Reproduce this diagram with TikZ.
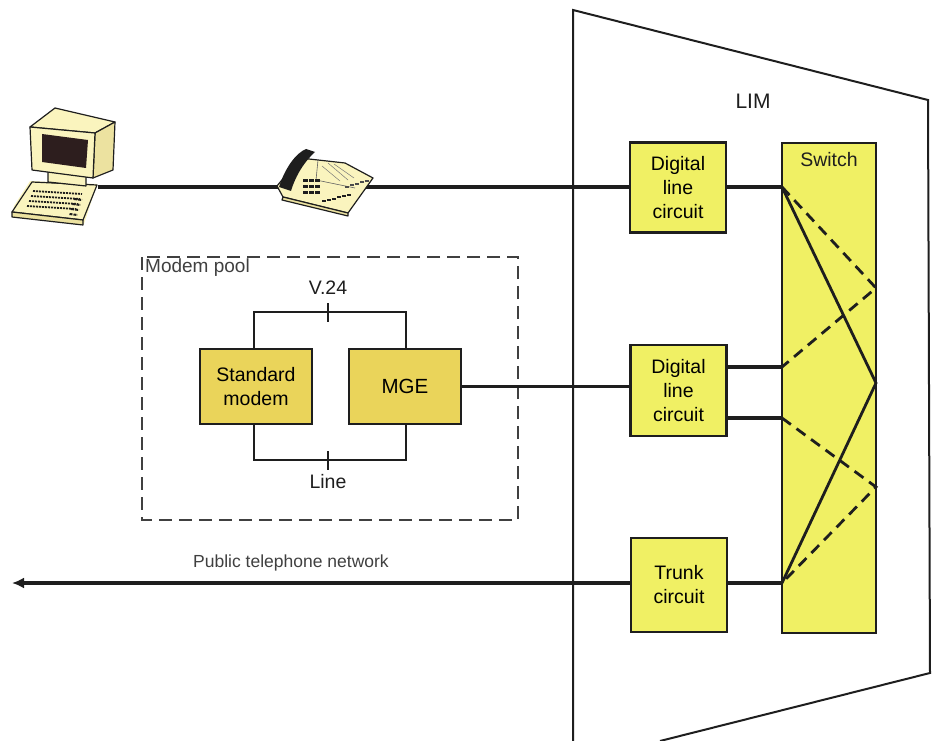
\documentclass[tikz,border=0pt]{standalone}
\usepackage{fontspec}
\setmainfont{Liberation Sans}
\usetikzlibrary{arrows.meta}
\definecolor{lemon}{RGB}{240,240,100}
\definecolor{gold}{RGB}{234,212,90}
\definecolor{cream}{RGB}{250,244,190}
\definecolor{creamdark}{RGB}{236,226,160}
\definecolor{ink}{RGB}{30,30,30}
\definecolor{screen}{RGB}{45,30,30}
\begin{document}
\begin{tikzpicture}[x=1pt,y=-1pt,
  circuit/.style={draw=ink,line width=2.4pt,fill=lemon,minimum width=96pt,
    minimum height=90pt,align=center,inner sep=0pt,
    font=\fontsize{19.5}{24}\selectfont},
  modembox/.style={circuit,fill=gold,minimum width=112pt,minimum height=75pt},
  wire/.style={draw=ink,line width=3.2pt},
  swline/.style={draw=ink,line width=2.8pt},
  swdash/.style={draw=ink,line width=2.8pt,dash pattern=on 11pt off 7pt},
  frame/.style={draw=ink,line width=2pt},
  lbl/.style={font=\fontsize{19.5}{24}\selectfont,text=ink,inner sep=0pt},
  small/.style={font=\fontsize{17.5}{20}\selectfont,text=ink!85,inner sep=0pt},
  tick/.style={draw=ink,line width=2pt},
  art/.style={draw=ink,line width=1.2pt,line join=round}
]
\useasboundingbox (0,0) rectangle (938,741);

% LIM cabinet outline
\draw[frame,line join=miter] (573,741) -- (573,10) -- (928,100) -- (930,673) -- (660,741);
\node[lbl,font=\fontsize{21}{24}\selectfont] (lim) at (753,101) {LIM};

% Modem pool frame
\draw[draw=ink!85,line width=1.6pt,dash pattern=on 13pt off 7pt] (142,257) rectangle (518,520);
\node[small,anchor=north west,font=\fontsize{19}{20}\selectfont] (pool) at (145,259) {Modem pool};

% Circuits
\node[circuit] (dlc1) at (678,187.5) {Digital\\line\\circuit};
\node[circuit,minimum height=91pt] (dlc2) at (678.5,390.5) {Digital\\line\\circuit};
\node[circuit,minimum height=94pt] (trunk) at (679,585) {Trunk\\circuit};
\node[circuit,minimum width=94pt,minimum height=490pt,
  label={[lbl,anchor=north,yshift=-10pt]north:Switch}] (switch) at (829,388) {};

% Modems
\node[modembox] (std) at (256,386.5) {Standard\\modem};
\node[modembox,font=\fontsize{20.5}{24}\selectfont] (mge) at (405,386.5) {MGE};

% Switch contact points
\coordinate (A) at (782,187);
\coordinate (B) at (782,367);
\coordinate (C) at (782,418);
\coordinate (D) at (782,583);
\coordinate (E) at (876,288);
\coordinate (F) at (876,383);
\coordinate (G) at (876,487);

% Connections into the switch
\draw[wire] (dlc1.east |- A) -- (A);
\draw[wire] (dlc2.east |- B) -- (B);
\draw[wire] (dlc2.east |- C) -- (C);
\draw[wire] (trunk.east |- D) -- (D);

% Switch paths
\draw[swline] (A) -- (F) -- (D);
\draw[swdash] (A) -- (E) -- (B);
\draw[swdash] (C) -- (G) -- (D);

% Modem pool wiring
\coordinate (v24) at (328,312);
\coordinate (lineb) at (328,460);
\draw[wire,line width=2.8pt] (std.north -| 254,0) |- (v24) -| (mge.north -| 406,0);
\draw[wire,line width=2.8pt] (std.south -| 254,0) |- (lineb) -| (mge.south -| 406,0);
\draw[tick] (328,303) -- (328,322);
\draw[tick] (328,451) -- (328,470);
\node[lbl] (v24lbl) at (328,288) {V.24};
\node[lbl] (linelbl) at (328,482) {Line};

% MGE to digital line circuit
\draw[wire] (mge.east) -- (mge.east -| dlc2.west);

% Public network
\coordinate (pstn) at (12,583);
\draw[wire,-{Latex[length=12pt,width=11pt]}] (trunk.west |- D) -- (pstn);
\node[small] (pstnlbl) at (291,563) {Public telephone network};

% Terminal line through the telephone
\coordinate (pc) at (98,187);
\draw[wire] (pc) -- (dlc1.west |- pc);

% Terminal
\begin{scope}
  \fill[cream] (14,206) -- (30,181) -- (97,184) -- (84,224) -- (12,217) -- cycle;
  \draw[art,fill=cream] (32,182) -- (97,185) -- (83,220) -- (12,212) -- cycle;
  \draw[art,fill=creamdark] (12,212) -- (83,220) -- (83,225) -- (12,217) -- cycle;
  \foreach \r in {0,1,2,3}
    \draw[ink,line width=1.8pt,dash pattern=on 2pt off 1pt]
      (33-2*\r,191+5*\r) -- (82-2*\r,194+5*\r);
  \foreach \r in {0,1,2,3}
    \draw[ink,line width=2pt,dash pattern=on 3pt off 1pt]
      (74-1.5*\r,199+5*\r) -- (82-1.5*\r,200+5*\r);
  \draw[art,fill=cream] (48,171) -- (86,176) -- (86,186) -- (48,182) -- cycle;
  \draw[art,fill=cream] (30,127) -- (55,108) -- (115,122) -- (95,133) -- cycle;
  \draw[art,fill=creamdark] (95,133) -- (115,122) -- (113,170) -- (93,178) -- cycle;
  \draw[art,fill=cream] (30,127) -- (95,133) -- (93,178) -- (32,170) -- cycle;
  \fill[screen] (42,134) -- (88,140) -- (86,168) -- (42,162) -- cycle;
\end{scope}

% Telephone
\begin{scope}
  \draw[art,fill=cream] (277,186) -- (300,158) -- (345,163) -- (373,178) -- (348,213) -- (283,197) -- cycle;
  \draw[art,fill=creamdark] (283,197) -- (348,213) -- (348,216) -- (282,200) -- cycle;
  \draw[ink!70,line width=0.6pt] (318,160) -- (316,180) -- (355,188);
  \draw[ink!60,line width=0.5pt] (322,166) -- (340,181) (328,163) -- (348,180) (334,164) -- (354,178);
  \fill[ink] (279,187) .. controls (285,168) and (296,153) .. (306,149)
    -- (315,152) .. controls (306,160) and (296,174) .. (291,191) -- cycle;
  \foreach \c in {0,1,2}
    \foreach \r in {0,1,2}
      \fill[ink] (303+6*\c,182+6*\r) rectangle ++(4.5,-2.5);
  \foreach \k in {0,...,5}
    \fill[ink] (322+5*\k,202-1.2*\k) rectangle ++(3.5,-2);
  \foreach \k in {0,...,4}
    \fill[ink!80] (345+5*\k,188-1.5*\k) rectangle ++(3.5,-2);
\end{scope}

\end{tikzpicture}
\end{document}
